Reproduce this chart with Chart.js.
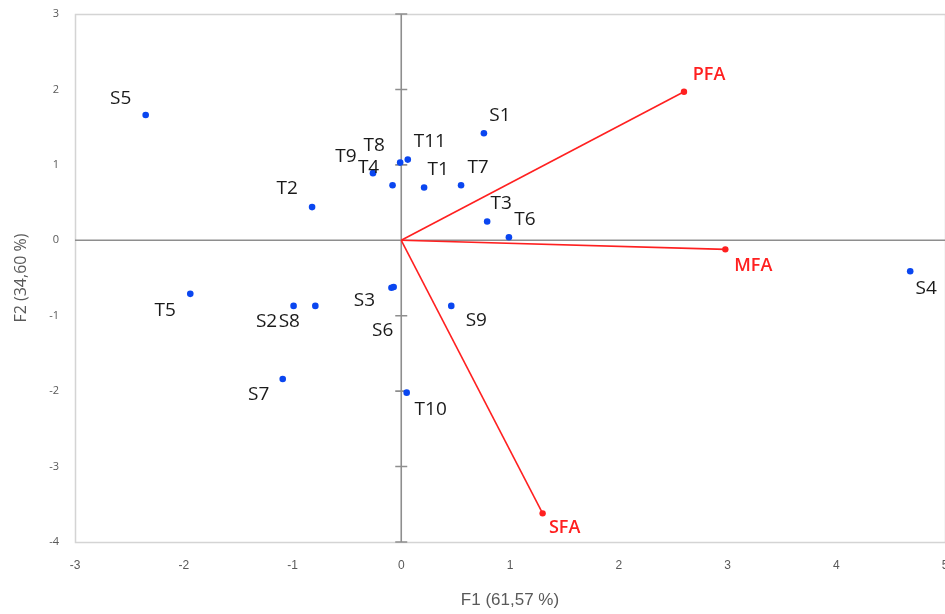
<!DOCTYPE html>
<html>
<head>
<meta charset="utf-8">
<script src="https://cdn.jsdelivr.net/npm/chart.js@4"></script>
<style>
html,body{margin:0;padding:0;background:#fff;overflow:hidden;}
#wrap{width:945px;height:614px;position:relative;overflow:hidden;}
</style>
</head>
<body>
<div id="wrap"><canvas id="c" width="949" height="614"></canvas></div>
<script>
// Observations (PCA scores)
const obsNames = ["S5","S1","T8","T11","T9","T4","T1","T7","T2","T3","T6","T5","S2","S8","S3","S6","S9","S7","T10","S4"];
const obsF1 = [-2.35, 0.76, -0.01, 0.06, -0.26, -0.08, 0.21, 0.55, -0.82, 0.79, 0.99, -1.94, -0.99, -0.79, -0.09, -0.07, 0.46, -1.09, 0.05, 4.68];
const obsF2 = [1.66, 1.42, 1.03, 1.07, 0.89, 0.73, 0.70, 0.73, 0.44, 0.25, 0.04, -0.71, -0.87, -0.87, -0.63, -0.62, -0.87, -1.84, -2.02, -0.41];

// Variables (loadings vectors)
const varNames = ["PFA","MFA","SFA"];
const varF1 = [2.60, 2.98, 1.30];
const varF2 = [1.97, -0.12, -3.62];

// Axis ticks
const xTicks = [-3,-2,-1,0,1,2,3,4,5];
const yTicks = [-4,-3,-2,-1,0,1,2,3];

// Label placement (pixel offsets from point, layout only)
const obsLabelOffsets = [[-25,-16],[16,-18],[-26,-17],[22,-18],[-27,-17],[-24,-18],[14,-18],[17,-18],[-25,-19],[14,-18],[16,-18],[-25,17],[-27,16],[-26,16],[-27,13],[-11,44],[25,15],[-24,16],[24,17],[16,17]];
const varLabelOffsets = [[25,-17],[28,17],[22,15]];

const obsData = obsF1.map((x,i)=>({x:x,y:obsF2[i]}));
const varDatasets = varNames.map((n,i)=>({
  type:'line',
  label:n,
  data:[{x:0,y:0},{x:varF1[i],y:varF2[i]}],
  borderColor:'#FF2020',
  backgroundColor:'#FF2020',
  borderWidth:1.6,
  pointRadius:[0,3.2],
  pointBackgroundColor:'#FF2020',
  pointBorderWidth:0,
  showLine:true,
  order:2
}));

const frameAndLabels = {
  id:'frameAndLabels',
  beforeDatasetsDraw(chart){
    const ctx = chart.ctx, a = chart.chartArea;
    const xs = chart.scales.x, ys = chart.scales.y;
    ctx.save();
    ctx.strokeStyle = '#D4D4D4';
    ctx.lineWidth = 1.5;
    ctx.strokeRect(a.left+0.5, a.top+0.5, a.right-a.left, a.bottom-a.top);
    const x0 = xs.getPixelForValue(0), y0 = ys.getPixelForValue(0);
    ctx.strokeStyle = '#8E8E8E';
    ctx.lineWidth = 1.6;
    ctx.beginPath();
    ctx.moveTo(a.left, y0); ctx.lineTo(a.right, y0);
    ctx.moveTo(x0, a.top); ctx.lineTo(x0, a.bottom);
    yTicks.forEach(v=>{
      const py = ys.getPixelForValue(v);
      ctx.moveTo(x0-6, py); ctx.lineTo(x0+6, py);
    });
    ctx.stroke();
    ctx.restore();
  },
  afterDatasetsDraw(chart){
    const ctx = chart.ctx;
    const xs = chart.scales.x, ys = chart.scales.y;
    ctx.save();
    ctx.textAlign = 'center';
    ctx.textBaseline = 'middle';
    ctx.font = '19px "Open Sans", "Liberation Sans", sans-serif';
    ctx.fillStyle = '#1a1a1a';
    obsNames.forEach((n,i)=>{
      const px = xs.getPixelForValue(obsF1[i]) + obsLabelOffsets[i][0];
      const py = ys.getPixelForValue(obsF2[i]) + obsLabelOffsets[i][1];
      ctx.fillText(n, px, py);
    });
    ctx.font = '600 18px "Open Sans", "Liberation Sans", sans-serif';
    ctx.fillStyle = '#FF2020';
    varNames.forEach((n,i)=>{
      const px = xs.getPixelForValue(varF1[i]) + varLabelOffsets[i][0];
      const py = ys.getPixelForValue(varF2[i]) + varLabelOffsets[i][1];
      ctx.fillText(n, px, py);
    });
    ctx.restore();
  }
};

new Chart(document.getElementById('c'), {
  type:'scatter',
  data:{
    datasets:[
      {label:'Observations', data:obsData, backgroundColor:'#0A46F0', borderWidth:0, pointRadius:3.3, order:1},
      ...varDatasets
    ]
  },
  options:{
    responsive:false,
    animation:false,
    layout:{padding:{top:14,right:0,bottom:0,left:0}},
    plugins:{legend:{display:false},tooltip:{enabled:false}},
    scales:{
      x:{
        type:'linear', min:-3, max:5,
        grid:{display:false, drawTicks:false},
        border:{display:false},
        afterBuildTicks(s){ s.ticks = xTicks.map(v=>({value:v})); },
        afterFit(s){ s.height = 72; s.paddingLeft = 0; s.paddingRight = 0; },
        ticks:{padding:16, color:'#595959', font:{family:'"Liberation Sans Narrow", "Liberation Sans", sans-serif', size:12}, maxRotation:0},
        title:{display:true, text:'F1 (61,57 %)', color:'#595959', padding:{top:0,bottom:3}, font:{family:'"Liberation Sans Narrow", "Liberation Sans", sans-serif', size:17}}
      },
      y:{
        type:'linear', min:-4, max:3,
        grid:{display:false, drawTicks:false},
        border:{display:false},
        afterBuildTicks(s){ s.ticks = yTicks.map(v=>({value:v})); },
        afterFit(s){ s.width = 75; s.paddingTop = 0; s.paddingBottom = 0; },
        ticks:{padding:16, color:'#595959', font:{family:'"Open Sans", "Liberation Sans", sans-serif', size:11}},
        title:{display:true, text:'F2 (34,60 %)', color:'#595959', padding:{top:12,bottom:0}, font:{family:'"Open Sans", "Liberation Sans", sans-serif', size:16}}
      }
    }
  },
  plugins:[frameAndLabels]
});
</script>
</body>
</html>
